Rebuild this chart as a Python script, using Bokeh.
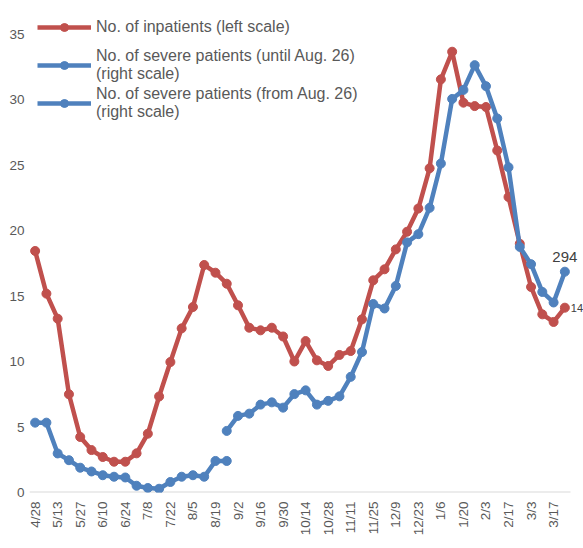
import math
from bokeh.plotting import figure
from bokeh.models import (Range1d, FixedTicker, Legend, LegendItem,
                          ColumnDataSource, Label)
from bokeh.embed import file_html
from bokeh.resources import INLINE

# ---------------- data ----------------
dates = ["4/28", "5/6", "5/13", "5/20", "5/27", "6/3", "6/10", "6/17", "6/24", "7/1",
         "7/8", "7/15", "7/22", "7/29", "8/5", "8/12", "8/19", "8/26", "9/2", "9/9",
         "9/16", "9/23", "9/30", "10/7", "10/14", "10/21", "10/28", "11/4", "11/11", "11/18",
         "11/25", "12/2", "12/9", "12/16", "12/23", "12/30", "1/6", "1/13", "1/20", "1/27",
         "2/3", "2/10", "2/17", "2/24", "3/3", "3/10", "3/17", "3/24"]

# No. of inpatients (left scale, thousands)
inpatients = [18.44, 15.18, 13.27, 7.50, 4.24, 3.24, 2.71, 2.35, 2.35, 2.99,
              4.49, 7.33, 9.96, 12.53, 14.16, 17.37, 16.78, 15.94, 14.29, 12.58,
              12.38, 12.58, 11.91, 10.00, 11.56, 10.09, 9.66, 10.50, 10.80, 13.22,
              16.20, 17.04, 18.56, 19.91, 21.68, 24.75, 31.54, 33.65, 29.76, 29.50,
              29.43, 26.11, 22.56, 18.99, 15.69, 13.60, 13.02, 14.11]

# No. of severe patients until Aug. 26 (right scale) -> dates[0..17]
severe_until = [93, 93, 52, 43, 33, 28, 23, 21, 20, 9,
                6, 5, 14, 21, 23, 21, 42, 42]

# No. of severe patients from Aug. 26 (right scale) -> dates[17..47]
severe_from = [82, 102, 105, 117, 120, 113, 131, 136, 117, 122,
               128, 154, 187, 251, 245, 275, 333, 344, 379, 438,
               524, 536, 569, 541, 498, 433, 327, 304, 267, 253, 294]

left_ticks = [0, 5, 10, 15, 20, 25, 30, 35]
left_tick_labels = ["0", "5", "10", "15", "20", "25", "30", "35"]
last_red_label = "14"
last_blue_label = "294"

legend_labels = ["No. of inpatients (left scale)",
                 "No. of severe patients (until Aug. 26)\n(right scale)",
                 "No. of severe patients (from Aug. 26)\n(right scale)"]

# ---------------- styling ----------------
RED = "#C0504D"
BLUE = "#4F81BD"
TXT = "#595959"
LEFT_MAX = 36.95
RIGHT_PER_LEFT = 17.44
AXIS_W = 541          # width of the category axis in px
FRAME_W = 554         # frame reaches the canvas edge so end labels are not clipped
FRAME_H = 484

n = len(dates)
x_all = list(range(n))
x_until = x_all[:len(severe_until)]
x_from = x_all[n - len(severe_from):]
x_start = -0.5
x_axis_end = n - 0.5
x_end = x_start + n * FRAME_W / AXIS_W

src_red = ColumnDataSource(dict(x=x_all, y=inpatients))
src_b1 = ColumnDataSource(dict(x=x_until, y=severe_until))
src_b2 = ColumnDataSource(dict(x=x_from, y=severe_from))

p = figure(frame_width=FRAME_W, frame_height=FRAME_H, output_backend="svg",
           toolbar_location=None,
           x_range=Range1d(x_start, x_end), y_range=Range1d(0, LEFT_MAX),
           min_border_left=29, min_border_right=0, min_border_top=8,
           min_border_bottom=48, background_fill_color="white",
           border_fill_color="white", outline_line_color=None)
p.extra_y_ranges = {"right": Range1d(0, LEFT_MAX * RIGHT_PER_LEFT)}

p.xgrid.visible = False
p.ygrid.visible = False

# x axis (its line is drawn as a baseline only across the categories)
xa = p.xaxis[0]
xa.ticker = FixedTicker(ticks=x_all[::2])
xa.major_label_overrides = {i: dates[i] for i in x_all[::2]}
xa.major_label_orientation = math.pi / 2
xa.major_label_text_font = "Liberation Sans"
xa.major_label_text_font_size = "13.5px"
xa.major_label_text_color = TXT
xa.major_label_standoff = 9
xa.axis_line_color = None
xa.major_tick_line_color = None
xa.minor_tick_line_color = None
xa.major_tick_out = 0
xa.major_tick_in = 0
xa.minor_tick_out = 0
xa.minor_tick_in = 0

p.line(x=[x_start, x_axis_end], y=[0, 0], line_color="#d9d9d9", line_width=2)

# left axis
ya = p.yaxis[0]
ya.ticker = FixedTicker(ticks=left_ticks)
ya.major_label_overrides = {t: l for t, l in zip(left_ticks, left_tick_labels)}
ya.major_label_text_font = "Liberation Sans"
ya.major_label_text_font_size = "13.5px"
ya.major_label_text_color = TXT
ya.major_label_standoff = 5
ya.axis_line_color = None
ya.major_tick_line_color = None
ya.minor_tick_line_color = None
ya.major_tick_out = 0
ya.major_tick_in = 0
ya.minor_tick_out = 0
ya.minor_tick_in = 0

# glyphs
r_line = p.line("x", "y", source=src_red, line_color=RED, line_width=4.5)
r_pts = p.scatter("x", "y", source=src_red, size=9, fill_color=RED, line_color=RED)

b1_line = p.line("x", "y", source=src_b1, line_color=BLUE, line_width=4.5, y_range_name="right")
b1_pts = p.scatter("x", "y", source=src_b1, size=9, fill_color=BLUE, line_color=BLUE, y_range_name="right")
b2_line = p.line("x", "y", source=src_b2, line_color=BLUE, line_width=4.5, y_range_name="right")
b2_pts = p.scatter("x", "y", source=src_b2, size=9, fill_color=BLUE, line_color=BLUE, y_range_name="right")

# end labels
p.add_layout(Label(x=x_all[-1], y=inpatients[-1], text=last_red_label, x_offset=6, y_offset=0,
                   text_align="left", text_baseline="middle", text_font="Liberation Sans",
                   text_font_size="11px", text_color="#404040"))
p.add_layout(Label(x=x_from[-1], y=severe_from[-1], y_range_name="right", text=last_blue_label,
                   y_offset=15, text_align="center", text_baseline="middle",
                   text_font="Liberation Sans", text_font_size="15px", text_color="#404040"))

# legend
item_h = 38
legend = Legend(items=[
    LegendItem(label=legend_labels[0], renderers=[r_line, r_pts]),
    LegendItem(label=legend_labels[1], renderers=[b1_line, b1_pts]),
    LegendItem(label=legend_labels[2], renderers=[b2_line, b2_pts]),
], location=(8, FRAME_H - 3 * item_h))
legend.glyph_width = 54
legend.glyph_height = 20
legend.label_height = item_h
legend.spacing = 0
legend.padding = 0
legend.margin = 0
legend.label_standoff = 5
legend.label_text_font = "Liberation Sans"
legend.label_text_font_size = "16px"
legend.label_text_color = TXT
legend.label_text_line_height = 1.2
legend.border_line_color = None
legend.background_fill_alpha = 0
p.add_layout(legend, "center")

open("out.html", "w").write(file_html(p, INLINE))
